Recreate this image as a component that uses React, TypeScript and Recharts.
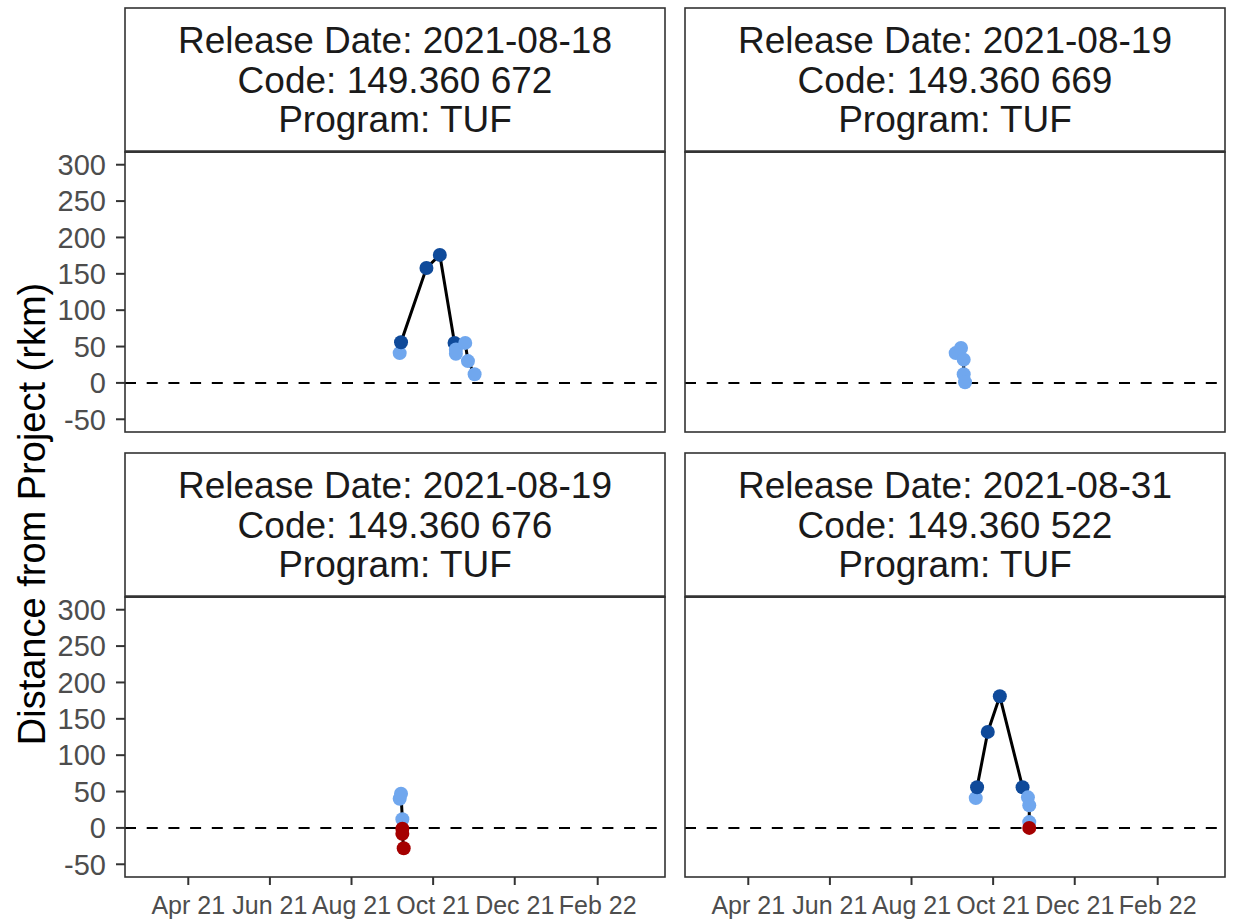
import React from 'react';
import { ComposedChart, Line, Scatter, XAxis, YAxis, ReferenceLine } from 'recharts';

// days are counted from 2021-01-01 so the x scale is plain numbers
const DAY0 = Date.UTC(2021, 0, 1);
const toDay = (s: string) => (Date.parse(s + 'T00:00:00Z') - DAY0) / 86400000;

const xTickDates = ['2021-04-01', '2021-06-01', '2021-08-01', '2021-10-01', '2021-12-01', '2022-02-01'];
const xTickLabels = ['Apr 21', 'Jun 21', 'Aug 21', 'Oct 21', 'Dec 21', 'Feb 22'];
const yTicks = [-50, 0, 50, 100, 150, 200, 250, 300];

const releaseDates = ['2021-08-18', '2021-08-19', '2021-08-19', '2021-08-31'];
const codes = ['149.360 672', '149.360 669', '149.360 676', '149.360 522'];
const programs = ['TUF', 'TUF', 'TUF', 'TUF'];

// detections, D = dark blue, L = light blue, R = red
const p1Dates = ['2021-09-06', '2021-09-07', '2021-09-26', '2021-10-06', '2021-10-17', '2021-10-18', '2021-10-18', '2021-10-25', '2021-10-27', '2021-11-01'];
const p1Dist = [41, 56, 158, 176, 55, 46, 40, 55, 30, 12];
const p1Type = ['L', 'D', 'D', 'D', 'D', 'L', 'L', 'L', 'L', 'L'];

const p2Dates = ['2021-09-03', '2021-09-07', '2021-09-09', '2021-09-09', '2021-09-10'];
const p2Dist = [41, 48, 32, 12, 1];
const p2Type = ['L', 'L', 'L', 'L', 'L'];

const p3Dates = ['2021-09-06', '2021-09-07', '2021-09-08', '2021-09-08', '2021-09-08', '2021-09-09'];
const p3Dist = [40, 47, 12, -1, -8, -28];
const p3Type = ['L', 'L', 'L', 'R', 'R', 'R'];

const p4Dates = ['2021-09-18', '2021-09-19', '2021-09-27', '2021-10-06', '2021-10-23', '2021-10-27', '2021-10-28', '2021-10-28', '2021-10-28'];
const p4Dist = [41, 56, 132, 181, 56, 42, 31, 8, 0];
const p4Type = ['L', 'D', 'D', 'D', 'D', 'L', 'L', 'L', 'R'];

const COLORS: Record<string, string> = { D: '#0F4A9A', L: '#70A7EE', R: '#A50000' };
const FONT = '"Liberation Sans", Arial, Helvetica, sans-serif';

const X_DOMAIN = [42.7, 446.3];
const Y_DOMAIN = [-67.5, 317.5];
const PANEL_W = 540;
const STRIP_H = 144;
const PLOT_H = 280;
const X_AXIS_H = 47;
const Y_AXIS_W = 125;
const PAD = 20; // room so the end tick labels are not clipped

interface PanelProps {
  dates: string[];
  dist: number[];
  types: string[];
  idx: number;
  left: number;
  top: number;
  showY: boolean;
  showX: boolean;
}

const Dot = (props: any) => {
  const { cx, cy, payload } = props;
  if (cx == null || cy == null) return null;
  return <circle cx={cx} cy={cy} r={7} fill={COLORS[payload.type]} />;
};

// box drawn in svg so the line can be a bit thicker than 1px
const Frame = ({ left, top, w, h, sw, thickBottom }: { left: number; top: number; w: number; h: number; sw: number; thickBottom?: boolean }) => (
  <svg width={w + 4} height={h + 4} style={{ position: 'absolute', left: left - 2, top: top - 2, pointerEvents: 'none' }}>
    <rect x={2} y={2} width={w} height={h} fill="none" stroke="#333" strokeWidth={sw} />
    {thickBottom && <line x1={2} x2={w + 2} y1={h + 1.5} y2={h + 1.5} stroke="#333" strokeWidth={2.6} />}
  </svg>
);

const xTickValues = xTickDates.map(toDay);

const Panel: React.FC<PanelProps> = ({ dates, dist, types, idx, left, top, showY, showX }) => {
  const pts = dates.map((d, i) => ({ day: toDay(d), dist: dist[i], type: types[i] }));
  const plotTop = top + STRIP_H;
  const chartLeft = showY ? left - Y_AXIS_W : left;
  const chartW = showY ? PANEL_W + Y_AXIS_W : PANEL_W;
  const bottomPad = showX ? 0 : PAD;
  const chartH = PAD + PLOT_H + (showX ? X_AXIS_H : 0) + bottomPad;

  return (
    <>
      <div
        style={{
          position: 'absolute', left, top, width: PANEL_W, height: STRIP_H,
          display: 'flex', flexDirection: 'column', justifyContent: 'center', alignItems: 'center',
          fontFamily: FONT, fontSize: 37, lineHeight: '39.5px', color: '#1a1a1a', paddingTop: 1, boxSizing: 'border-box',
        }}
      >
        <div>Release Date: {releaseDates[idx]}</div>
        <div>Code: {codes[idx]}</div>
        <div>Program: {programs[idx]}</div>
      </div>
      <div style={{ position: 'absolute', left: chartLeft, top: plotTop - PAD, width: chartW, height: chartH }}>
        <ComposedChart width={chartW} height={chartH} margin={{ top: PAD, right: 0, bottom: bottomPad, left: 0 }}>
          <XAxis
            type="number"
            dataKey="day"
            domain={X_DOMAIN}
            allowDataOverflow
            ticks={xTickValues}
            tickFormatter={(v: number) => xTickLabels[xTickValues.indexOf(v)] ?? ''}
            interval={0}
            hide={!showX}
            height={X_AXIS_H}
            axisLine={false}
            tickSize={8}
            tickMargin={11}
            tickLine={{ stroke: '#333', strokeWidth: 2 }}
            tick={{ fill: '#4d4d4d', fontSize: 25, fontFamily: FONT }}
          />
          <YAxis
            type="number"
            dataKey="dist"
            domain={Y_DOMAIN}
            allowDataOverflow
            ticks={yTicks}
            interval={0}
            hide={!showY}
            width={Y_AXIS_W}
            axisLine={false}
            tickSize={9}
            tickMargin={10}
            tickLine={{ stroke: '#333', strokeWidth: 2 }}
            tick={{ fill: '#4d4d4d', fontSize: 29, fontFamily: FONT }}
          />
          <ReferenceLine y={0} stroke="#000" strokeWidth={2} strokeDasharray="11 10.7" />
          <Line data={pts} dataKey="dist" type="linear" stroke="#000" strokeWidth={3} dot={false} isAnimationActive={false} />
          <Scatter data={pts} dataKey="dist" shape={Dot} isAnimationActive={false} />
        </ComposedChart>
      </div>
      <Frame left={left} top={plotTop} w={PANEL_W} h={PLOT_H} sw={1.6} />
      <Frame left={left} top={top} w={PANEL_W} h={STRIP_H} sw={1.6} thickBottom />
    </>
  );
};

export default function App() {
  return (
    <div style={{ position: 'absolute', left: 0, top: 0, width: 1254, height: 924, background: '#fff', overflow: 'hidden' }}>
      <Panel dates={p1Dates} dist={p1Dist} types={p1Type} idx={0} left={125} top={8} showY showX={false} />
      <Panel dates={p2Dates} dist={p2Dist} types={p2Type} idx={1} left={685} top={8} showY={false} showX={false} />
      <Panel dates={p3Dates} dist={p3Dist} types={p3Type} idx={2} left={125} top={453} showY showX />
      <Panel dates={p4Dates} dist={p4Dist} types={p4Type} idx={3} left={685} top={453} showY={false} showX />
      <div style={{ position: 'absolute', left: 32, top: 514, width: 0, height: 0 }}>
        <div
          style={{
            position: 'absolute', left: 0, top: 0, whiteSpace: 'nowrap', fontFamily: FONT, fontSize: 38, color: '#000',
            transform: 'translate(-50%, -50%) rotate(-90deg)',
          }}
        >
          Distance from Project (rkm)
        </div>
      </div>
    </div>
  );
}
